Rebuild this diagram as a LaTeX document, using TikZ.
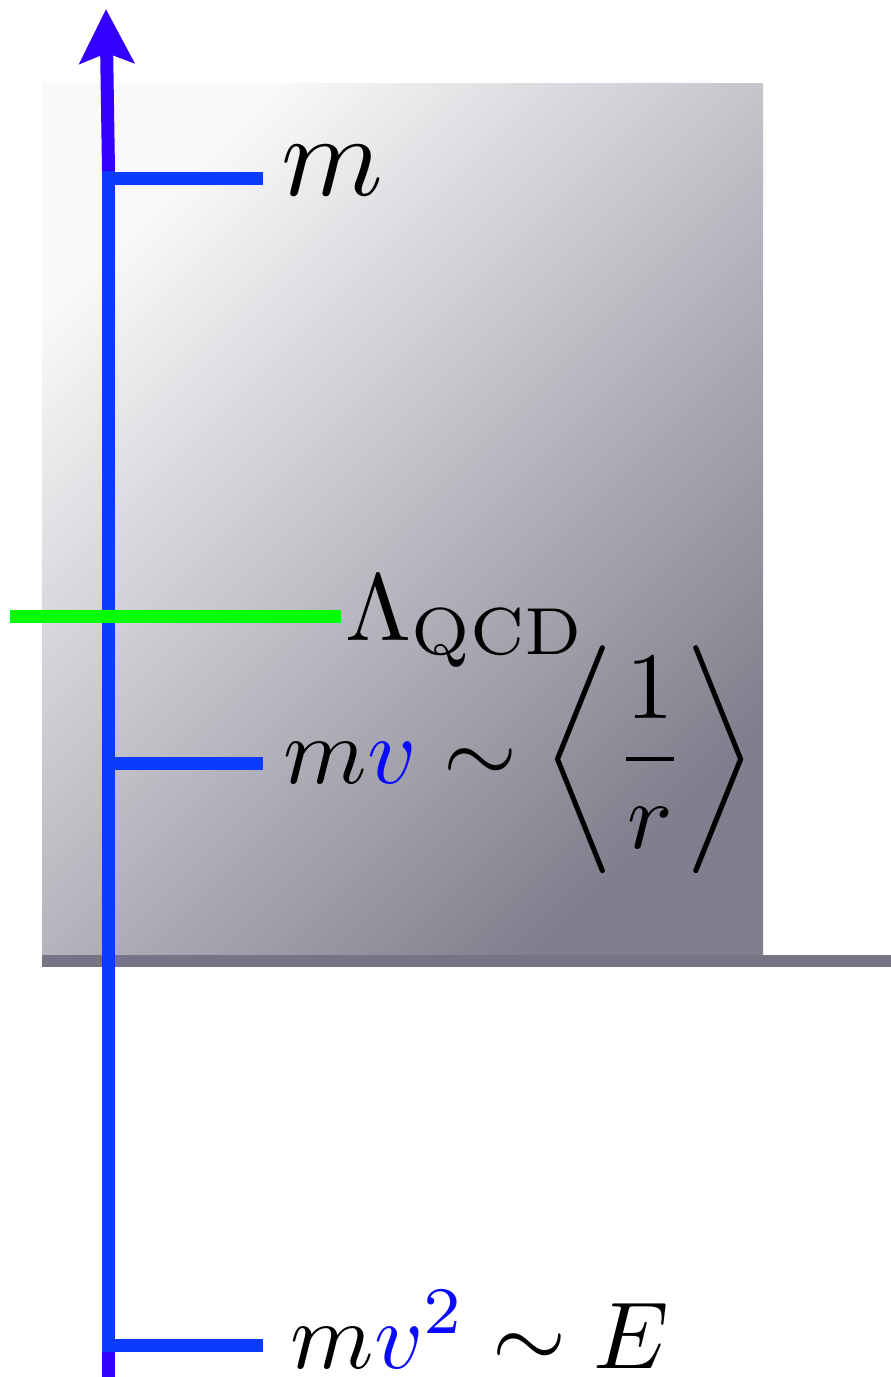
\documentclass[tikz,border=0pt]{standalone}
\usepackage{amsmath}
\usetikzlibrary{arrows.meta}
\definecolor{boxlight}{RGB}{249,249,250}
\definecolor{boxdark}{RGB}{128,127,141}
\definecolor{barcol}{RGB}{120,116,133}
\definecolor{axisblue}{RGB}{12,58,255}
\definecolor{axispurple}{RGB}{51,0,255}
\definecolor{lamgreen}{RGB}{0,255,0}
\definecolor{vblue}{RGB}{10,10,255}
\tikzset{
  axisline/.style={draw=axisblue, line width=13pt, line cap=butt},
  arrowline/.style={draw=axispurple, line width=13pt, line cap=butt},
  tickline/.style={draw=axisblue, line width=13pt, line cap=butt},
  greenline/.style={draw=lamgreen, line width=13pt, line cap=butt},
  biglabel/.style={anchor=base west, inner sep=0pt, scale=9.5},
  toplabel/.style={anchor=base west, inner sep=0pt, scale=11.6},
}
\newcommand{\vb}{\textcolor{vblue}{v}}
\newcommand{\vbsq}{\textcolor{vblue}{v^{2}}}
\begin{document}
\begin{tikzpicture}[x=1pt,y=-1pt]
\useasboundingbox (0,0) rectangle (891,1377);
% background box
\shade[top color=boxlight, bottom color=boxdark, shading angle=45] (42,83) rectangle (763,956);
\fill[barcol] (42,955) rectangle (891,967);
% axis
\coordinate (axTop) at (108.5,171);
\coordinate (axTip) at (106,9);
\coordinate (axLow) at (108.5,1352);
\coordinate (axEnd) at (108.5,1377);
\draw[axisline] (axTop) -- (axLow);
\draw[arrowline, -{Stealth[length=54pt, width=54pt, inset=10pt]}] (axTop) -- (axTip);
\draw[arrowline] (axLow) -- (axEnd);
% ticks
\coordinate (t1a) at (102,178);   \coordinate (t1b) at (263,178);
\coordinate (t2a) at (102,763);   \coordinate (t2b) at (263,763);
\coordinate (t3a) at (102,1345.5);\coordinate (t3b) at (263,1345.5);
\draw[tickline] (t1a) -- (t1b);
\draw[tickline] (t2a) -- (t2b);
\draw[tickline] (t3a) -- (t3b);
% Lambda line
\coordinate (ga) at (10,616.5); \coordinate (gb) at (341,616.5);
\draw[greenline] (ga) -- (gb);
% labels
\node[toplabel] (lm) at (279,195) {$m$};
\node[biglabel] (llam) at (344,640) {$\Lambda_{\mathrm{QCD}}$};
\node[biglabel] (lmv) at (282,783) {$m\vb\sim\left\langle\dfrac{1}{r}\right\rangle$};
\node[biglabel] (lmv2) at (289,1368) {$m\vbsq\sim E$};
\end{tikzpicture}
\end{document}
